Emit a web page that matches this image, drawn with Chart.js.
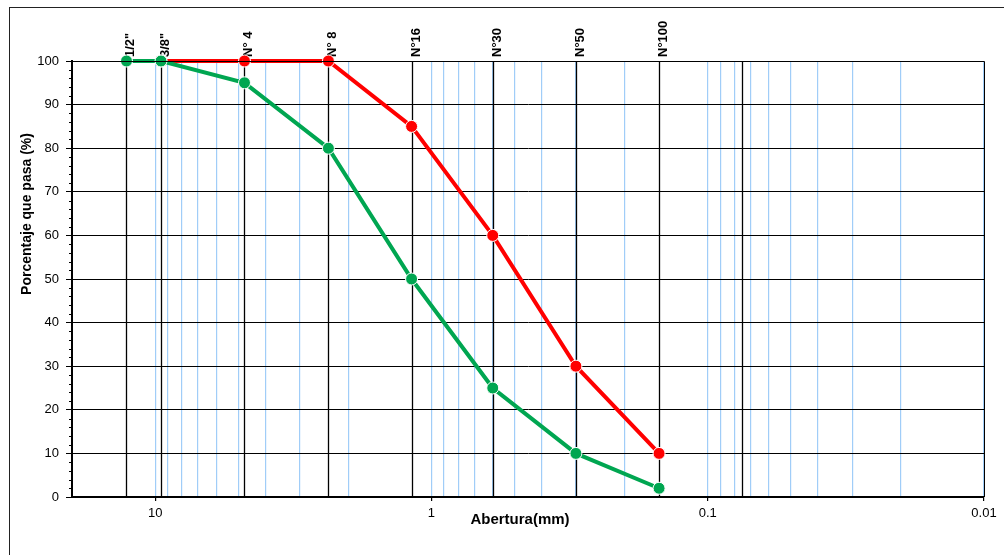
<!DOCTYPE html>
<html>
<head>
<meta charset="utf-8">
<script src="https://cdn.jsdelivr.net/npm/chart.js@4.4.1/dist/chart.umd.min.js"></script>
<style>
  html, body { margin: 0; padding: 0; background: #fff; }
  #wrap { width: 1004px; height: 555px; }
</style>
</head>
<body>
<div id="wrap"><canvas id="curva" width="1004" height="555"></canvas></div>
<script>
// tamices y aberturas (mm)
const sieveLabels = ['1/2"', '3/8"', 'N° 4', 'N° 8', 'N°16', 'N°30', 'N°50', 'N°100', ''];
const sieveSizes = [12.7, 9.525, 4.75, 2.36, 1.18, 0.6, 0.3, 0.15, 0.075];

// porcentaje que pasa
const greenPassing = [100, 100, 95, 80, 50, 25, 10, 2, null];
const redPassing = [null, 100, 100, 100, 85, 60, 30, 10, null];

// ticks del eje x
const xDecades = [0.01, 0.1, 1, 10];
const xMin = 0.01;
const xMax = 20;

const FONT = "'Liberation Sans', Arial, sans-serif";
const GREEN = '#00a651';
const RED = '#ff0000';

const toPoints = (values) =>
  sieveSizes
    .map((s, i) => ({ x: s, y: values[i] }))
    .filter((p) => p.y !== null);

const isDecade = (v) => Math.abs(Math.log10(v) - Math.round(Math.log10(v))) < 1e-9;

// lineas de grilla logaritmicas (1..9 por decada)
const xGrid = [];
xDecades.forEach((d) => {
  for (let m = 1; m <= 9; m++) {
    const v = +(m * d).toPrecision(6);
    if (v <= xMax) xGrid.push(v);
  }
});
xGrid.push(xMax);

// marco exterior, borde del area y titulos de ejes
const framePlugin = {
  id: 'frame',
  beforeDraw(chart) {
    const ctx = chart.ctx;
    ctx.save();
    ctx.strokeStyle = '#222';
    ctx.lineWidth = 1;
    ctx.strokeRect(9.5, 7.5, 2000, 2000);
    ctx.restore();
  },
  afterDraw(chart) {
    const { ctx, chartArea } = chart;
    ctx.save();
    ctx.strokeStyle = '#000';
    ctx.lineWidth = 1;
    ctx.beginPath();
    ctx.moveTo(chartArea.left, chartArea.top + 0.5);
    ctx.lineTo(chartArea.right + 0.5, chartArea.top + 0.5);
    ctx.lineTo(chartArea.right + 0.5, chartArea.bottom);
    ctx.stroke();

    // ticks menores del eje y
    const y = chart.scales.y;
    for (let v = 0; v <= 100; v += 2) {
      if (v % 10 === 0) continue;
      const py = Math.round(y.getPixelForValue(v)) + 0.5;
      ctx.beginPath();
      ctx.moveTo(chartArea.left - 3, py);
      ctx.lineTo(chartArea.left, py);
      ctx.stroke();
    }

    ctx.fillStyle = '#000';
    ctx.textAlign = 'center';
    ctx.textBaseline = 'middle';
    ctx.font = 'bold 15px ' + FONT;
    ctx.fillText('Abertura(mm)', 520, 520);

    ctx.font = 'bold 14px ' + FONT;
    ctx.translate(27.5, 214);
    ctx.rotate(-Math.PI / 2);
    ctx.fillText('Porcentaje que pasa (%)', 0, 0);
    ctx.restore();
  }
};

// lineas verticales de cada tamiz con su nombre
const sievePlugin = {
  id: 'sieves',
  beforeDatasetsDraw(chart) {
    const { ctx, chartArea } = chart;
    const x = chart.scales.x;
    ctx.save();
    sieveSizes.forEach((s, i) => {
      const px = Math.round(x.getPixelForValue(s)) + 0.5;
      ctx.strokeStyle = '#000';
      ctx.lineWidth = 1.3;
      ctx.beginPath();
      ctx.moveTo(px, chartArea.top);
      ctx.lineTo(px, chartArea.bottom);
      ctx.stroke();
      if (!sieveLabels[i]) return;
      ctx.save();
      ctx.fillStyle = '#000';
      ctx.font = 'bold 13px ' + FONT;
      ctx.textAlign = 'left';
      ctx.textBaseline = 'top';
      ctx.translate(px - 3, chartArea.top - 4);
      ctx.rotate(-Math.PI / 2);
      ctx.fillText(sieveLabels[i], 0, 0);
      ctx.restore();
    });
    ctx.restore();
  }
};

new Chart(document.getElementById('curva'), {
  type: 'line',
  data: {
    datasets: [
      {
        label: 'Curva 1',
        data: toPoints(greenPassing),
        borderColor: GREEN,
        backgroundColor: GREEN,
        pointBackgroundColor: GREEN,
        pointBorderColor: '#fff',
        pointBorderWidth: 1,
        pointRadius: 6,
        borderWidth: 4,
        order: 0,
        clip: false
      },
      {
        label: 'Curva 2',
        data: toPoints(redPassing),
        borderColor: RED,
        backgroundColor: RED,
        pointBackgroundColor: RED,
        pointBorderColor: '#fff',
        pointBorderWidth: 1,
        pointRadius: 6,
        borderWidth: 4,
        order: 1,
        clip: false
      }
    ]
  },
  options: {
    responsive: false,
    animation: false,
    layout: { padding: { top: 61, right: 20, left: 0, bottom: 0 } },
    plugins: {
      legend: { display: false },
      tooltip: { enabled: false }
    },
    scales: {
      x: {
        type: 'logarithmic',
        reverse: true,
        min: xMin,
        max: xMax,
        afterBuildTicks: (scale) => {
          scale.ticks = xGrid.map((v) => ({ value: v }));
        },
        afterFit: (scale) => { scale.height = 58; },
        ticks: {
          autoSkip: false,
          maxRotation: 0,
          padding: 5,
          color: '#000',
          font: { family: FONT, size: 13 },
          callback: (v) => (isDecade(v) ? String(v) : '')
        },
        grid: {
          color: '#a0cdf8',
          lineWidth: 1.2,
          tickLength: 4,
          tickColor: (ctx) => (ctx.tick && isDecade(ctx.tick.value) ? '#000' : 'rgba(0,0,0,0)')
        },
        border: { color: '#000', width: 2 }
      },
      y: {
        min: 0,
        max: 100,
        afterFit: (scale) => { scale.width = 72; },
        ticks: {
          stepSize: 10,
          padding: 7,
          color: '#000',
          font: { family: FONT, size: 13 }
        },
        grid: {
          color: '#000',
          lineWidth: 1,
          tickLength: 6,
          tickColor: '#000'
        },
        border: { color: '#000', width: 2 }
      }
    }
  },
  plugins: [framePlugin, sievePlugin]
});
</script>
</body>
</html>
